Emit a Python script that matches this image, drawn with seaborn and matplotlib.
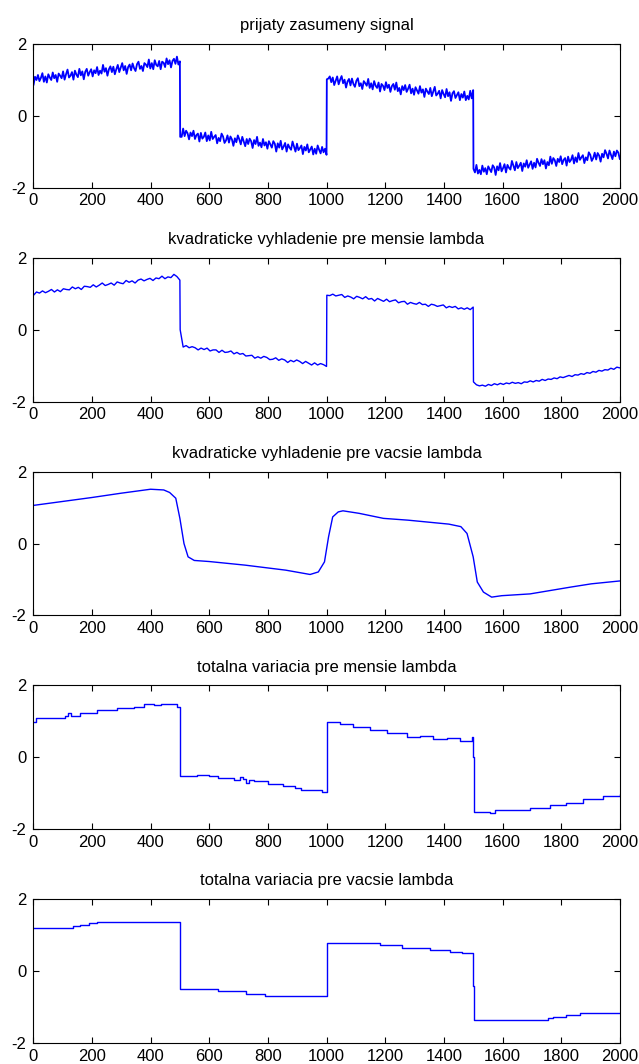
import numpy as np
import matplotlib
matplotlib.use("Agg")
import matplotlib.pyplot as plt
import seaborn as sns

# titles of the five panels
titles = [
    "prijaty zasumeny signal",
    "kvadraticke vyhladenie pre mensie lambda",
    "kvadraticke vyhladenie pre vacsie lambda",
    "totalna variacia pre mensie lambda",
    "totalna variacia pre vacsie lambda",
]
x_ticks = [0, 200, 400, 600, 800, 1000, 1200, 1400, 1600, 1800, 2000]
y_ticks = [-2, 0, 2]

# received noisy signal, 100 samples per 500-sample segment
noisy_a = [0.86, 1.09, 1.00, 1.14, 0.97, 1.06, 1.19, 0.95, 1.10, 0.93,
           1.16, 1.07, 1.00, 1.21, 1.05, 1.14, 0.95, 1.18, 1.12, 1.05,
           1.24, 1.01, 1.16, 1.29, 1.07, 1.12, 1.22, 1.01, 1.26, 1.15,
           1.08, 1.31, 1.13, 1.24, 1.02, 1.23, 1.31, 1.12, 1.22, 1.30,
           1.10, 1.27, 1.19, 1.36, 1.14, 1.26, 1.18, 1.42, 1.23, 1.33,
           1.12, 1.30, 1.38, 1.22, 1.37, 1.16, 1.30, 1.42, 1.22, 1.35,
           1.47, 1.27, 1.39, 1.17, 1.36, 1.43, 1.27, 1.46, 1.33, 1.25,
           1.44, 1.51, 1.31, 1.39, 1.25, 1.47, 1.43, 1.36, 1.57, 1.32,
           1.47, 1.30, 1.55, 1.42, 1.38, 1.53, 1.30, 1.51, 1.48, 1.36,
           1.60, 1.44, 1.55, 1.35, 1.53, 1.59, 1.45, 1.65, 1.43, 1.52]
noisy_b = [-0.58, -0.58, -0.35, -0.56, -0.41, -0.48, -0.65, -0.46, -0.56, -0.41,
           -0.64, -0.53, -0.49, -0.71, -0.47, -0.63, -0.58, -0.46, -0.70, -0.54,
           -0.68, -0.44, -0.64, -0.58, -0.53, -0.76, -0.61, -0.70, -0.49, -0.57,
           -0.75, -0.68, -0.54, -0.74, -0.57, -0.65, -0.83, -0.62, -0.73, -0.54,
           -0.65, -0.79, -0.58, -0.71, -0.84, -0.64, -0.78, -0.63, -0.70, -0.89,
           -0.67, -0.78, -0.58, -0.83, -0.74, -0.87, -0.64, -0.82, -0.73, -0.91,
           -0.70, -0.79, -0.88, -0.70, -0.77, -0.99, -0.76, -0.88, -0.69, -0.93,
           -0.85, -0.75, -0.99, -0.79, -0.88, -0.94, -0.71, -0.85, -0.99, -0.77,
           -0.95, -0.89, -0.82, -1.06, -0.86, -0.96, -0.79, -1.01, -0.93, -0.85,
           -1.07, -0.91, -1.05, -0.82, -0.94, -1.04, -0.86, -1.01, -0.91, -1.08]
noisy_c = [1.02, 1.04, 1.10, 0.94, 1.07, 0.86, 0.98, 1.10, 0.88, 1.01,
           1.11, 0.91, 1.01, 0.79, 0.96, 1.03, 0.85, 1.04, 0.89, 0.81,
           0.98, 1.05, 0.83, 0.91, 0.75, 0.97, 0.91, 0.84, 1.03, 0.78,
           0.91, 0.74, 0.97, 0.84, 0.78, 0.93, 0.68, 0.89, 0.84, 0.72,
           0.94, 0.78, 0.87, 0.67, 0.83, 0.89, 0.73, 0.93, 0.69, 0.78,
           0.60, 0.83, 0.72, 0.86, 0.67, 0.76, 0.87, 0.63, 0.76, 0.59,
           0.80, 0.71, 0.62, 0.83, 0.65, 0.74, 0.53, 0.76, 0.68, 0.61,
           0.78, 0.55, 0.68, 0.81, 0.57, 0.62, 0.70, 0.49, 0.72, 0.61,
           0.52, 0.75, 0.55, 0.66, 0.42, 0.63, 0.69, 0.50, 0.58, 0.66,
           0.44, 0.61, 0.51, 0.68, 0.44, 0.56, 0.46, 0.70, 0.49, 0.72]
noisy_d = [-1.47, -1.57, -1.36, -1.60, -1.50, -1.62, -1.38, -1.55, -1.45, -1.62,
           -1.40, -1.48, -1.56, -1.37, -1.43, -1.64, -1.40, -1.51, -1.31, -1.54,
           -1.45, -1.34, -1.57, -1.36, -1.44, -1.49, -1.25, -1.38, -1.51, -1.28,
           -1.45, -1.38, -1.30, -1.53, -1.32, -1.41, -1.23, -1.44, -1.35, -1.26,
           -1.47, -1.30, -1.43, -1.19, -1.30, -1.39, -1.20, -1.34, -1.23, -1.46,
           -1.28, -1.37, -1.13, -1.33, -1.17, -1.23, -1.39, -1.19, -1.28, -1.12,
           -1.34, -1.22, -1.17, -1.38, -1.13, -1.28, -1.22, -1.09, -1.32, -1.15,
           -1.28, -1.03, -1.22, -1.15, -1.09, -1.31, -1.15, -1.23, -1.01, -1.08,
           -1.25, -1.17, -1.02, -1.21, -1.03, -1.10, -1.27, -1.05, -1.15, -0.95,
           -1.05, -1.18, -0.96, -1.08, -1.20, -0.99, -1.12, -0.96, -1.02, -1.20]

# quadratic smoothing, small lambda, 50 samples per segment
quad_small_a = [0.96, 1.05, 1.02, 1.08, 1.03, 1.07, 1.12, 1.05, 1.11, 1.06,
                1.14, 1.12, 1.11, 1.19, 1.14, 1.18, 1.12, 1.21, 1.20, 1.18,
                1.25, 1.19, 1.24, 1.30, 1.23, 1.26, 1.30, 1.24, 1.33, 1.30,
                1.28, 1.37, 1.32, 1.36, 1.30, 1.38, 1.41, 1.36, 1.40, 1.43,
                1.37, 1.44, 1.42, 1.49, 1.42, 1.47, 1.45, 1.54, 1.48, 1.38]
quad_small_b = [0.00, -0.48, -0.44, -0.50, -0.47, -0.50, -0.56, -0.51, -0.55, -0.51,
                -0.59, -0.56, -0.56, -0.63, -0.57, -0.63, -0.62, -0.59, -0.67, -0.63,
                -0.68, -0.66, -0.73, -0.72, -0.71, -0.79, -0.75, -0.79, -0.74, -0.77,
                -0.83, -0.82, -0.78, -0.85, -0.81, -0.84, -0.91, -0.85, -0.89, -0.84,
                -0.88, -0.94, -0.88, -0.93, -0.98, -0.92, -0.98, -0.94, -0.97, -1.02]
quad_small_c = [0.96, 0.95, 0.99, 0.94, 0.96, 0.98, 0.90, 0.94, 0.91, 0.86,
                0.93, 0.90, 0.86, 0.92, 0.85, 0.87, 0.80, 0.87, 0.83, 0.79,
                0.85, 0.78, 0.81, 0.83, 0.75, 0.78, 0.79, 0.71, 0.76, 0.73,
                0.71, 0.76, 0.70, 0.71, 0.65, 0.71, 0.69, 0.65, 0.67, 0.69,
                0.61, 0.65, 0.62, 0.65, 0.58, 0.61, 0.57, 0.61, 0.56, 0.63]
quad_small_d = [-1.45, -1.53, -1.56, -1.54, -1.57, -1.52, -1.55, -1.50, -1.53, -1.49,
                -1.52, -1.48, -1.50, -1.46, -1.49, -1.47, -1.50, -1.45, -1.46, -1.42,
                -1.45, -1.41, -1.43, -1.38, -1.41, -1.37, -1.38, -1.34, -1.36, -1.31,
                -1.33, -1.30, -1.27, -1.30, -1.25, -1.26, -1.22, -1.24, -1.19, -1.21,
                -1.16, -1.18, -1.13, -1.15, -1.11, -1.12, -1.07, -1.10, -1.04, -1.06]

# quadratic smoothing, large lambda
quad_large_x = [0, 100, 200, 300, 400, 445, 465, 486, 500, 514, 528, 549, 600,
                722, 861, 944, 972, 993, 1007, 1021, 1040, 1056, 1111, 1194,
                1278, 1417, 1458, 1479, 1500, 1514, 1535, 1563, 1597, 1694,
                1833, 1903, 2000]
quad_large_y = [1.06, 1.17, 1.28, 1.40, 1.51, 1.49, 1.42, 1.26, 0.70, 0.00,
                -0.37, -0.47, -0.50, -0.60, -0.74, -0.86, -0.79, -0.51, 0.19,
                0.74, 0.88, 0.91, 0.84, 0.70, 0.65, 0.54, 0.47, 0.28, -0.37,
                -1.07, -1.35, -1.49, -1.45, -1.40, -1.21, -1.12, -1.04]

# total variation, small lambda (piecewise constant)
tv_small_x = [0, 8, 70, 110, 118, 128, 160, 217, 286, 343, 377, 411, 434, 491,
              500, 560, 600, 629, 686, 705, 715, 724, 735, 754, 800, 850, 891,
              914, 983, 1000, 1046, 1091, 1148, 1205, 1273, 1319, 1363, 1410,
              1455, 1495, 1500, 1504, 1557, 1574, 1636, 1693, 1762, 1818, 1874,
              1942, 2000]
tv_small_y = [0.97, 1.08, 1.10, 1.14, 1.22, 1.16, 1.24, 1.32, 1.36, 1.41, 1.47,
              1.45, 1.48, 1.40, -0.52, -0.49, -0.53, -0.57, -0.62, -0.56, -0.60,
              -0.70, -0.64, -0.66, -0.74, -0.79, -0.84, -0.90, -0.97, 0.97, 0.94,
              0.84, 0.75, 0.68, 0.56, 0.59, 0.51, 0.53, 0.46, 0.56, 0.00, -1.52,
              -1.55, -1.47, -1.46, -1.40, -1.32, -1.26, -1.17, -1.07, -1.03]

# total variation, large lambda (piecewise constant)
tv_large_x = [0, 137, 160, 189, 217, 500, 629, 726, 789, 1000, 1182, 1256, 1353,
              1421, 1461, 1500, 1504, 1755, 1772, 1817, 1863, 2000]
tv_large_y = [1.21, 1.25, 1.29, 1.33, 1.37, -0.49, -0.56, -0.63, -0.70, 0.77,
              0.73, 0.65, 0.59, 0.54, 0.50, -0.42, -1.36, -1.31, -1.27, -1.21,
              -1.17, -1.17]


def segments(a, b, c, d):
    # sample index of every stored value, segment by segment
    xs = np.concatenate([np.linspace(1 + 500 * k, 500 + 500 * k, len(s))
                         for k, s in enumerate([a, b, c, d])])
    return xs, np.concatenate([a, b, c, d])


sns.set_style("ticks")
plt.rcParams['font.family'] = ['Liberation Sans', 'DejaVu Sans']
plt.rcParams['axes.unicode_minus'] = False

fig, axes = plt.subplots(5, 1, figsize=(6.39, 10.64), dpi=100)
fig.subplots_adjust(left=0.052, right=0.970, top=0.9586, bottom=0.0197, hspace=0.486)

series = [
    segments(noisy_a, noisy_b, noisy_c, noisy_d),
    segments(quad_small_a, quad_small_b, quad_small_c, quad_small_d),
    (quad_large_x, quad_large_y),
    (tv_small_x, tv_small_y),
    (tv_large_x, tv_large_y),
]

for i, (ax, (xs, ys)) in enumerate(zip(axes, series)):
    style = 'steps-post' if i >= 3 else 'default'
    sns.lineplot(x=xs, y=ys, ax=ax, color='#0000ff', lw=1.3 if i == 0 else 1.0,
                 estimator=None, sort=False, drawstyle=style)
    ax.set_xlim(0, 2000)
    ax.set_ylim(-2, 2)
    ax.set_xticks(x_ticks)
    ax.set_yticks(y_ticks)
    ax.set_title(titles[i], fontsize=12, pad=10, color='black')
    ax.tick_params(direction='in', top=True, right=True, length=4.5,
                   width=0.8, labelsize=12, colors='black')
    ax.tick_params(axis='x', pad=4)
    ax.tick_params(axis='y', pad=5)
    for sp in ax.spines.values():
        sp.set_visible(True)
        sp.set_color('black')
        sp.set_linewidth(0.8)

fig.savefig("out.png", dpi=100)
